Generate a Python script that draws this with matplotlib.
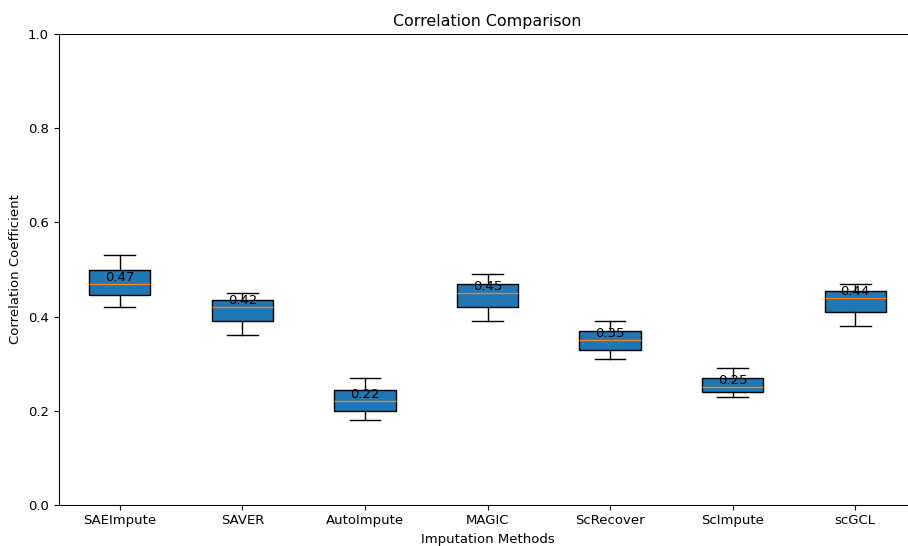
import matplotlib
matplotlib.use("Agg")
import matplotlib.pyplot as plt

methods = ["SAEImpute", "SAVER", "AutoImpute", "MAGIC", "ScRecover", "ScImpute", "scGCL"]
whislo = [0.42, 0.36, 0.18, 0.39, 0.31, 0.23, 0.38]
q1 = [0.445, 0.39, 0.20, 0.42, 0.33, 0.24, 0.41]
med = [0.47, 0.42, 0.22, 0.45, 0.35, 0.25, 0.44]
q3 = [0.50, 0.435, 0.245, 0.47, 0.37, 0.27, 0.455]
whishi = [0.53, 0.45, 0.27, 0.49, 0.39, 0.29, 0.47]

s = 0.95
plt.rcParams.update({
    "font.size": 10 * s,
    "axes.titlesize": 12 * s,
    "axes.labelsize": 10 * s,
    "xtick.labelsize": 10 * s,
    "ytick.labelsize": 10 * s,
    "axes.linewidth": 0.8 * s,
    "lines.linewidth": 1.0 * s,
    "xtick.major.size": 3.5 * s,
    "ytick.major.size": 3.5 * s,
})

fig = plt.figure(figsize=(9.08, 5.46), dpi=100)
W, H = 908, 546
ax = fig.add_axes([58.5 / W, 1 - 505 / H, (916.5 - 58.5) / W, (505 - 34) / H])

stats = []
for i, m in enumerate(methods):
    stats.append(dict(label=m, whislo=whislo[i], q1=q1[i], med=med[i],
                      q3=q3[i], whishi=whishi[i], fliers=[]))
ax.bxp(stats, patch_artist=True, widths=0.5)

for i, v in enumerate(med):
    ax.text(i + 1, v, f"{v:.2f}", ha="center", va="bottom", fontsize=10 * s)

ax.set_ylim(0, 1.0)
ax.spines["right"].set_visible(False)
ax.set_title("Correlation Comparison")
ax.set_xlabel("Imputation Methods")
ax.set_ylabel("Correlation Coefficient")

fig.savefig("out.png", dpi=100)
